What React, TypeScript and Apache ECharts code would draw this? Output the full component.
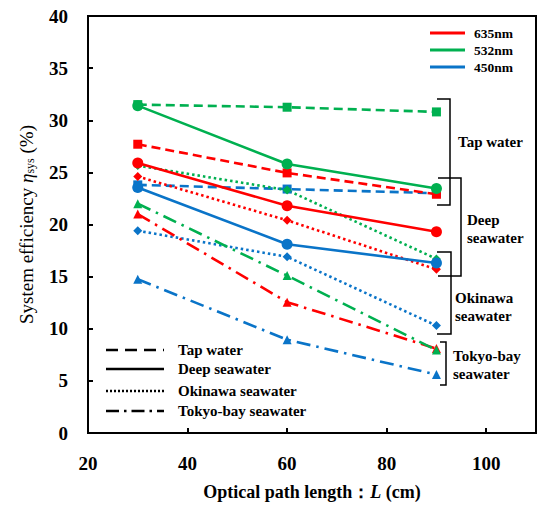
import React, { useEffect, useRef } from "react";
import * as echarts from "echarts";

const pathLengths = [30, 60, 90];
const xTicks = [20, 40, 60, 80, 100];

// values (%) for each wavelength / water type
const tap635 = [27.7, 24.95, 22.9];
const tap532 = [31.5, 31.25, 30.8];
const tap450 = [23.8, 23.4, 23.0];
const deep635 = [25.9, 21.8, 19.3];
const deep532 = [31.4, 25.8, 23.45];
const deep450 = [23.55, 18.1, 16.3];
const oki635 = [24.6, 20.4, 15.7];
const oki532 = [25.65, 23.3, 16.7];
const oki450 = [19.4, 16.9, 10.3];
const tokyo635 = [21.0, 12.55, 8.1];
const tokyo532 = [22.0, 15.1, 7.95];
const tokyo450 = [14.75, 8.95, 5.6];

const wavelengths = ["635nm", "532nm", "450nm"];
const waterTypes = ["Tap water", "Deep seawater", "Okinawa seawater", "Tokyo-bay seawater"];

const RED = "#FF0000";
const GREEN = "#00B050";
const BLUE = "#0A74C8";
const FONT = "Liberation Serif";

const dashTap = [9, 5];
const dashOki = [2.5, 3];
const dashTokyo = [14, 6, 2.5, 6];

function mk(name: string, vals: number[], color: string, dash: any, symbol: string, size: number) {
  return {
    name,
    type: "line",
    data: pathLengths.map((x, i) => [x, vals[i]]),
    symbol,
    symbolSize: size,
    lineStyle: { color, width: 2.6, type: dash },
    itemStyle: { color },
    emphasis: { disabled: true },
  };
}

export default function App() {
  const ref = useRef<HTMLDivElement>(null);
  useEffect(() => {
    const chart = echarts.init(ref.current!, null, { renderer: "svg" });
    const txt = (t: string, x: number, y: number, size: number) => ({
      type: "text",
      left: x,
      top: y,
      style: {
        text: t,
        fontFamily: FONT,
        fontWeight: "bold",
        fontSize: size,
        fill: "#000",
        lineHeight: 18,
      },
    });
    const ln = (x1: number, y1: number, x2: number, y2: number, w: number, color: string, dash?: any) => ({
      type: "line",
      shape: { x1, y1, x2, y2 },
      style: { stroke: color, lineWidth: w, lineDash: dash },
    });
    const bracket = (x: number, xl: number, y1: number, y2: number) => ({
      type: "polyline",
      shape: { points: [[xl, y1], [x, y1], [x, y2], [xl, y2]] },
      style: { stroke: "#000", lineWidth: 1.5, fill: "none" },
    });
    const legendDashes = [[12, 7], null, [2, 2], [13, 5, 2.5, 5]];
    const legendY = [350, 369, 391, 411];

    const graphic: any[] = [];
    // top-right legend (wavelength colours)
    [RED, GREEN, BLUE].forEach((c, i) => {
      graphic.push(ln(430, 33 + i * 17, 465, 33 + i * 17, 3, c));
      graphic.push({ ...txt(wavelengths[i], 474, 33 + i * 17 - 9, 13.5) });
    });
    // bottom-left legend (line styles)
    waterTypes.forEach((w, i) => {
      graphic.push(ln(106, legendY[i], 164, legendY[i], 2.5, "#000", legendDashes[i] || undefined));
      graphic.push(txt(w, 178, legendY[i] - 9, 15));
    });
    // brackets
    graphic.push(bracket(450, 437, 99, 205));
    graphic.push(txt("Tap water", 458, 133, 15));
    graphic.push(bracket(461, 438, 178, 276));
    graphic.push(txt("Deep\nseawater", 467, 211, 15));
    graphic.push(bracket(451, 437, 252, 334));
    graphic.push(txt("Okinawa\nseawater", 455, 289, 15));
    graphic.push(bracket(446, 440, 342, 385));
    graphic.push(txt("Tokyo-bay\nseawater", 453, 347, 15));

    const axisLabel = { fontFamily: FONT, fontWeight: "bold", fontSize: 19, color: "#000" };

    chart.setOption({
      animation: false,
      grid: {
        left: 88,
        top: 16,
        right: 14,
        bottom: 83,
        show: true,
        borderColor: "#000",
        borderWidth: 2,
        backgroundColor: "transparent",
      },
      xAxis: {
        type: "value",
        min: 20,
        max: 110,
        interval: 20,
        name: "{b|Optical path length：}{i|L}{b| (cm)}",
        nameLocation: "middle",
        nameGap: 50,
        nameTextStyle: {
          rich: {
            b: { fontFamily: FONT, fontWeight: "bold", fontSize: 18, color: "#000" },
            i: { fontFamily: FONT, fontWeight: "bold", fontStyle: "italic", fontSize: 18, color: "#000" },
          },
        },
        axisLine: { lineStyle: { color: "#000", width: 2 } },
        axisTick: { inside: true, length: 5, lineStyle: { color: "#000", width: 2 } },
        splitLine: { show: false },
        axisLabel: {
          ...axisLabel,
          margin: 21,
          formatter: (v: number) => (xTicks.indexOf(v) >= 0 ? String(v) : ""),
        },
      },
      yAxis: {
        type: "value",
        min: 0,
        max: 40,
        interval: 5,
        name: "{r|System efficiency }{i|η}{s|sys}{r| (%)}",
        nameLocation: "middle",
        nameRotate: 90,
        nameGap: 52,
        nameTextStyle: {
          rich: {
            r: { fontFamily: FONT, fontSize: 19, color: "#000", lineHeight: 22, verticalAlign: "bottom" },
            i: { fontFamily: FONT, fontStyle: "italic", fontSize: 19, color: "#000", lineHeight: 22, verticalAlign: "bottom" },
            s: { fontFamily: FONT, fontSize: 12, color: "#000", lineHeight: 12, verticalAlign: "bottom" },
          },
        },
        axisLine: { lineStyle: { color: "#000", width: 2 } },
        axisTick: { inside: true, length: 5, lineStyle: { color: "#000", width: 2 } },
        splitLine: { show: false },
        axisLabel: { ...axisLabel, margin: 20 },
      },
      series: [
        mk("tap450", tap450, BLUE, dashTap, "rect", 9),
        mk("tap635", tap635, RED, dashTap, "rect", 9),
        mk("tap532", tap532, GREEN, dashTap, "rect", 9),
        mk("oki635", oki635, RED, dashOki, "diamond", 9),
        mk("oki532", oki532, GREEN, dashOki, "diamond", 9),
        mk("oki450", oki450, BLUE, dashOki, "diamond", 9),
        mk("tokyo635", tokyo635, RED, dashTokyo, "triangle", 9),
        mk("tokyo532", tokyo532, GREEN, dashTokyo, "triangle", 9),
        mk("tokyo450", tokyo450, BLUE, dashTokyo, "triangle", 9),
        mk("deep635", deep635, RED, "solid", "circle", 11),
        mk("deep532", deep532, GREEN, "solid", "circle", 11),
        mk("deep450", deep450, BLUE, "solid", "circle", 11),
      ],
      graphic,
    });
    return () => chart.dispose();
  }, []);
  return (
    <div
      ref={ref}
      style={{ position: "fixed", left: 0, top: 0, width: 550, height: 516, background: "#fff" }}
    />
  );
}
